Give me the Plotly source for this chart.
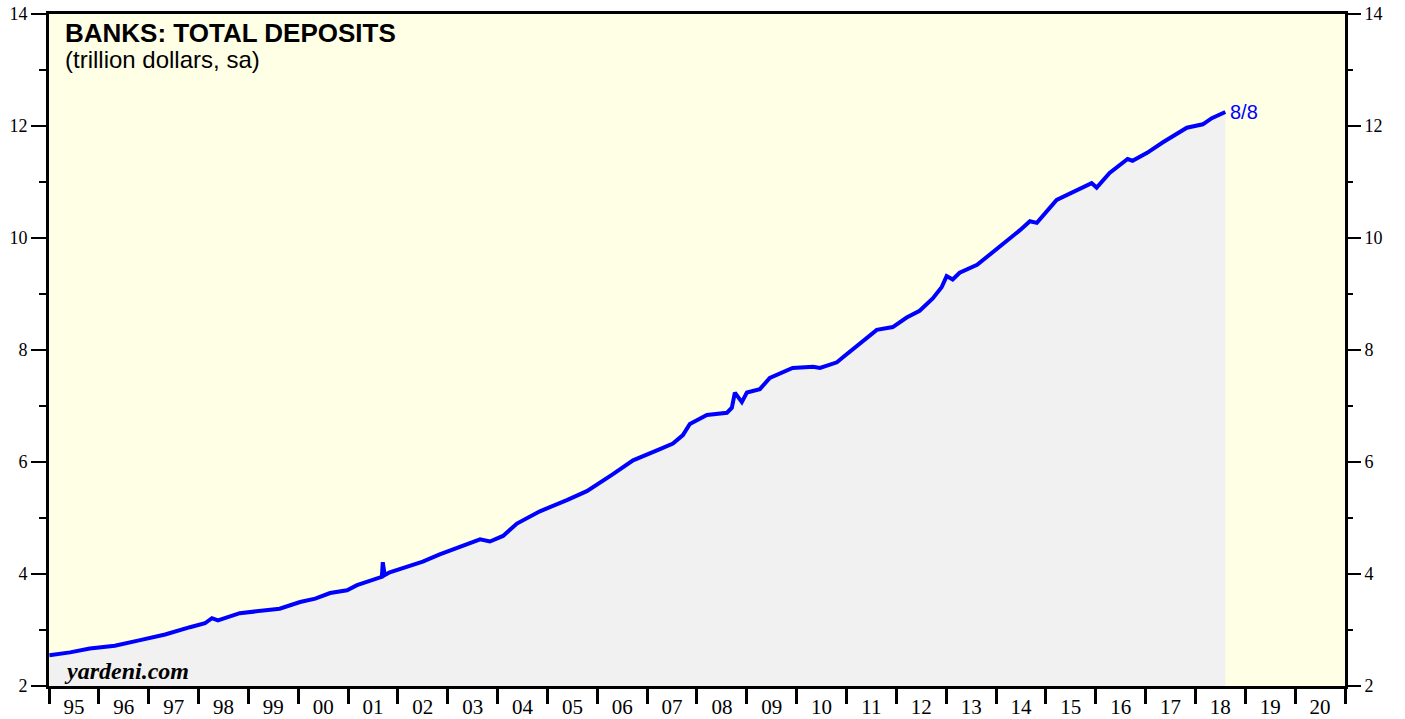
import plotly.graph_objects as go

dates = [
    "1995-01-04", "1995-06-04", "1995-10-27", "1996-04-27", "1996-10-30",
    "1997-05-01", "1997-10-30", "1998-02-17", "1998-04-09", "1998-05-23",
    "1998-10-30", "1999-03-25", "1999-08-18", "2000-01-15", "2000-05-05",
    "2000-08-22", "2000-12-24", "2001-03-07", "2001-08-22", "2001-09-05",
    "2001-09-12", "2001-09-26", "2001-11-02", "2002-02-20", "2002-07-02",
    "2002-11-03", "2003-04-20", "2003-08-26", "2003-11-06", "2004-02-10",
    "2004-05-22", "2004-11-06", "2005-05-23", "2005-10-16", "2006-04-23",
    "2006-09-20", "2007-04-05", "2007-07-09", "2007-09-20", "2007-11-10",
    "2008-03-14", "2008-08-08", "2008-09-13", "2008-10-05", "2008-11-25",
    "2009-01-01", "2009-04-06", "2009-06-18", "2009-12-02", "2010-05-01",
    "2010-06-21", "2010-10-23", "2010-12-06", "2011-05-01", "2011-08-11",
    "2011-12-06", "2012-03-17", "2012-06-20", "2012-09-24", "2012-11-28",
    "2013-01-04", "2013-02-17", "2013-04-09", "2013-08-15", "2013-10-27",
    "2014-02-21", "2014-06-25", "2014-09-06", "2014-10-27", "2015-03-21",
    "2015-09-06", "2015-12-02", "2016-01-08", "2016-04-12", "2016-08-22",
    "2016-09-27", "2017-01-12", "2017-05-08", "2017-10-30", "2018-02-24",
    "2018-05-01", "2018-08-08",
]
deposits = [
    2.55, 2.60, 2.67, 2.72, 2.82,
    2.92, 3.05, 3.12, 3.21, 3.17,
    3.30, 3.34, 3.38, 3.50, 3.56,
    3.66, 3.71, 3.80, 3.93, 3.95,
    4.21, 3.98, 4.03, 4.12, 4.22,
    4.35, 4.50, 4.62, 4.58, 4.68,
    4.90, 5.12, 5.32, 5.48, 5.78,
    6.03, 6.23, 6.33, 6.48, 6.68,
    6.84, 6.88, 6.97, 7.24, 7.07,
    7.24, 7.30, 7.50, 7.68, 7.70,
    7.68, 7.78, 7.87, 8.15, 8.36,
    8.41, 8.58, 8.70, 8.92, 9.12,
    9.32, 9.26, 9.38, 9.52, 9.66,
    9.90, 10.14, 10.30, 10.27, 10.68,
    10.88, 10.98, 10.90, 11.16, 11.41,
    11.38, 11.52, 11.71, 11.97, 12.03,
    12.14, 12.25,
]
last_label = "8/8"
title_text = "BANKS: TOTAL DEPOSITS"
subtitle_text = "(trillion dollars, sa)"
y_ticks = [2, 4, 6, 8, 10, 12, 14]
x_range = ["1995-01-01", "2021-01-01"]

SERIF = "Liberation Serif, Times New Roman, serif"
SANS = "Liberation Sans, Arial, Helvetica, sans-serif"
BLUE = "rgb(0,0,255)"

fig = go.Figure()
fig.add_trace(go.Scatter(
    x=dates, y=deposits, mode="lines",
    line=dict(color=BLUE, width=4),
    fill="tozeroy", fillcolor="rgb(241,241,241)",
    hoverinfo="x+y", showlegend=False,
))
# invisible traces for the right y axis and the tick-mark x axis
fig.add_trace(go.Scatter(
    x=[dates[0]], y=[deposits[0]], yaxis="y2", mode="markers",
    marker=dict(opacity=0), showlegend=False, hoverinfo="skip",
))
fig.add_trace(go.Scatter(
    x=[dates[0]], y=[deposits[0]], xaxis="x2", mode="markers",
    marker=dict(opacity=0), showlegend=False, hoverinfo="skip",
))

yax_common = dict(
    range=[2, 14], tickvals=y_ticks, ticks="outside", ticklen=15, tickwidth=1.5,
    tickcolor="black", showgrid=False, zeroline=False, automargin=False,
    tickfont=dict(family=SERIF, size=18, color="black"),
    minor=dict(dtick=1, tick0=1, ticks="outside", ticklen=7, tickwidth=1.5, tickcolor="black"),
)

fig.update_layout(
    width=1405, height=719,
    margin=dict(l=49, r=60, t=14, b=33),
    paper_bgcolor="white",
    plot_bgcolor="rgb(255,255,230)",
    xaxis=dict(
        type="date", range=x_range,
        tick0="1995-01-01", dtick="M12", tickformat="%y",
        ticklabelmode="period",
        ticks="",
        showgrid=False, zeroline=False, automargin=False,
        showline=True, linewidth=3, linecolor="black", mirror=True,
        tickfont=dict(family=SERIF, size=21, color="black"),
    ),
    xaxis2=dict(
        type="date", range=x_range, overlaying="x", side="bottom", anchor="y",
        tick0="1995-01-01", dtick="M12", showticklabels=False,
        ticks="outside", ticklen=17, tickwidth=3, tickcolor="black",
        showgrid=False, zeroline=False, automargin=False, showline=False,
    ),
    yaxis=dict(
        showline=True, linewidth=3, linecolor="black", mirror=True,
        side="left", **yax_common,
    ),
    yaxis2=dict(
        overlaying="y", side="right", showline=False, **yax_common,
    ),
    annotations=[
        dict(text="<b>" + title_text + "</b>", xref="paper", yref="paper",
             x=0.011, y=0.997, xanchor="left", yanchor="top", showarrow=False,
             font=dict(family=SANS, size=26, color="black")),
        dict(text=subtitle_text, xref="paper", yref="paper",
             x=0.011, y=0.955, xanchor="left", yanchor="top", showarrow=False,
             font=dict(family=SANS, size=24, color="black")),
        dict(text="<b><i>yardeni.com</i></b>", xref="paper", yref="paper",
             x=0.010, y=0.0, xanchor="left", yanchor="bottom", showarrow=False,
             font=dict(family=SERIF, size=24, color="black")),
        dict(text=last_label, x=dates[-1], y=deposits[-1], xref="x", yref="y",
             xanchor="left", yanchor="middle", xshift=3, showarrow=False,
             font=dict(family=SANS, size=20, color=BLUE)),
    ],
)

fig.write_html("out.html", config={"displayModeBar": False},
               post_script="document.body.style.margin='0px';")
